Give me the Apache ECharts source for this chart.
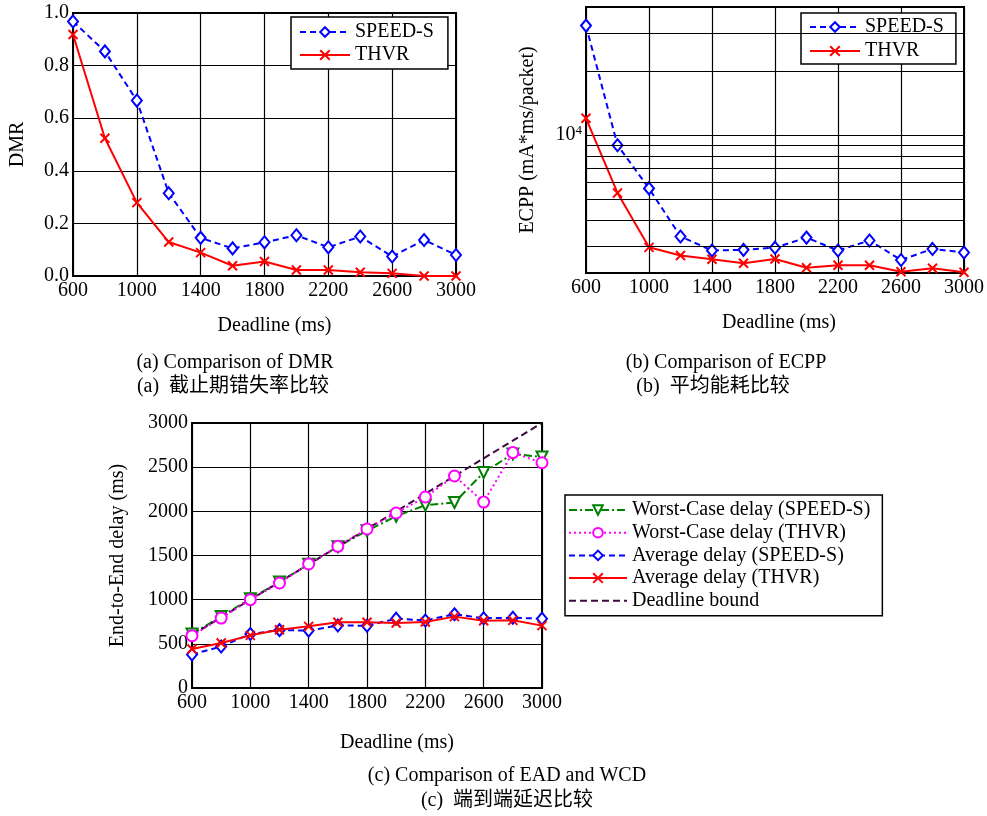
<!DOCTYPE html>
<html>
<head>
<meta charset="utf-8">
<script src="https://cdn.jsdelivr.net/npm/echarts@6.0.0/dist/echarts.min.js"></script>
<style>
  html, body { margin: 0; padding: 0; background: #fff; }
  #main { width: 987px; height: 816px; }
</style>
</head>
<body>
<div id="main"></div>
<script>
// x 轴 deadline (ms)
const deadlines = ['600', '800', '1000', '1200', '1400', '1600', '1800', '2000', '2200', '2400', '2600', '2800', '3000'];

// (a) DMR
const dmrSpeedS = [0.968, 0.854, 0.667, 0.315, 0.145, 0.105, 0.128, 0.155, 0.109, 0.150, 0.074, 0.137, 0.080];
const dmrThvr = [0.918, 0.524, 0.279, 0.129, 0.089, 0.039, 0.055, 0.023, 0.023, 0.014, 0.010, 0.0, 0.0];

// (b) ECPP, 对数轴
const ecppSpeedS = [32700, 8970, 5620, 3340, 2870, 2890, 2960, 3300, 2870, 3200, 2590, 2920, 2810];
const ecppThvr = [12000, 5350, 2970, 2720, 2610, 2500, 2620, 2380, 2445, 2445, 2280, 2370, 2270];
const ecppMinorGrid = [3000, 4000, 5000, 6000, 7000, 8000, 9000, 20000, 30000];

// (c) EAD / WCD
const wcdSpeedS = [610, 810, 1010, 1200, 1400, 1600, 1780, 1945, 2070, 2100, 2440, 2650, 2615];
const wcdThvr = [592, 792, 1000, 1189, 1404, 1604, 1800, 1981, 2162, 2400, 2105, 2665, 2550];
const eadSpeedS = [380, 470, 612, 655, 650, 708, 705, 785, 765, 835, 790, 795, 785];
const eadThvr = [441, 509, 596, 660, 698, 745, 745, 736, 747, 808, 762, 766, 706];
const deadlineBound = [600, 800, 1000, 1200, 1400, 1600, 1800, 2000, 2200, 2400, 2600, 2800, 3000];

const FONT = 'Liberation Serif';
const MIXED = '"Liberation Serif", "Noto Sans CJK SC"';
const CROSS = 'path://M0,0L10,10M10,0L0,10';

const gridLine = { color: '#000', width: 1.2 };
const textBase = { fontFamily: FONT, fontSize: 20, color: '#000' };

const xAxisOf = (gridIndex, nameGap, shift) => ({
  type: 'category',
  gridIndex,
  data: deadlines,
  boundaryGap: false,
  axisLine: { lineStyle: { color: '#000', width: 2 } },
  axisTick: { show: false },
  axisLabel: { ...textBase, interval: 1, margin: 5 },
  splitLine: { show: true, interval: 1, lineStyle: gridLine },
  name: 'Deadline (ms)',
  nameLocation: 'middle',
  nameGap,
  nameTextStyle: { ...textBase, padding: [0, 0, 0, shift * 2] }
});

const yName = (name, nameGap) => ({
  name,
  nameLocation: 'middle',
  nameGap,
  nameTextStyle: textBase,
  axisLine: { show: true, lineStyle: { color: '#000', width: 2 } },
  axisTick: { show: false },
  splitLine: { show: true, lineStyle: gridLine }
});

const speedStyle = {
  lineStyle: { color: '#0000ff', width: 2, type: [6, 4] },
  symbol: 'emptyDiamond',
  symbolSize: [10, 12],
  itemStyle: { color: '#0000ff', borderWidth: 2 }
};
const thvrStyle = {
  lineStyle: { color: '#ff0000', width: 2, type: 'solid' },
  symbol: CROSS,
  symbolSize: 9,
  itemStyle: { color: '#ff0000', borderColor: '#ff0000', borderWidth: 2 }
};

const legendBase = {
  orient: 'vertical',
  backgroundColor: '#fff',
  borderColor: '#000',
  borderWidth: 1.5,
  borderRadius: 0,
  itemHeight: 12,
  textStyle: { ...textBase, lineHeight: 20 }
};

const caption = (text, x, y) => ({
  type: 'text',
  x, y,
  silent: true,
  style: {
    text,
    font: '20px ' + MIXED,
    fill: '#000',
    align: 'center', textAlign: 'center',
    verticalAlign: 'middle', textVerticalAlign: 'middle'
  }
});

const chart = echarts.init(document.getElementById('main'));

const option = {
  backgroundColor: '#fff',
  animation: false,
  grid: [
    { left: 73, top: 13, width: 383, height: 263 },
    { left: 586, top: 7, width: 378, height: 266 },
    { left: 192, top: 423, width: 350, height: 265 }
  ].map(g => ({ ...g, show: true, borderColor: '#000', borderWidth: 2, outerBoundsMode: 'none' })),
  xAxis: [
    xAxisOf(0, 40, 10),
    xAxisOf(1, 40, 4),
    xAxisOf(2, 45, 30)
  ],
  yAxis: [
    {
      type: 'value', gridIndex: 0, min: 0, max: 1, interval: 0.2,
      ...yName('DMR', 45),
      axisLabel: { ...textBase, margin: 4, formatter: v => v.toFixed(1) }
    },
    {
      type: 'log', gridIndex: 1, logBase: 10, min: 2250, max: 40000,
      ...yName('ECPP (mA*ms/packet)', 48),
      axisLabel: {
        ...textBase, margin: 4,
        showMinLabel: false, showMaxLabel: false,
        formatter: v => (Math.abs(v - 10000) < 1 ? '{b|10}{s|4}' : ''),
        rich: {
          b: { fontFamily: FONT, fontSize: 20, color: '#000' },
          s: { fontFamily: FONT, fontSize: 13, color: '#000', padding: [0, 0, 10, 0] }
        }
      }
    },
    {
      type: 'value', gridIndex: 2, min: 0, max: 3000, interval: 500,
      ...yName('End-to-End delay (ms)', 64),
      axisLabel: { ...textBase, margin: 4, formatter: v => String(v) }
    }
  ],
  legend: [
    {
      ...legendBase, left: 291, top: 17, padding: [5, 14, 4, 8],
      itemWidth: 50, itemGap: 3, data: ['SPEED-S', 'THVR']
    },
    {
      ...legendBase, left: 801, top: 13, padding: [4, 12, 3, 8],
      itemWidth: 50, itemGap: 4, data: ['SPEED-S', 'THVR']
    },
    {
      ...legendBase, left: 565, top: 495, padding: [5, 12, 5, 3],
      itemWidth: 58, itemGap: 2.7,
      data: [
        'Worst-Case delay (SPEED-S)',
        'Worst-Case delay (THVR)',
        'Average delay (SPEED-S)',
        'Average delay (THVR)',
        { name: 'Deadline bound', itemStyle: { opacity: 0 } }
      ]
    }
  ],
  series: [
    // (a)
    { name: 'SPEED-S', type: 'line', xAxisIndex: 0, yAxisIndex: 0, data: dmrSpeedS, z: 3, ...speedStyle },
    { name: 'THVR', type: 'line', xAxisIndex: 0, yAxisIndex: 0, data: dmrThvr, z: 4, ...thvrStyle },
    // (b) 对数轴的细分网格线
    {
      name: 'ecpp-grid', type: 'line', xAxisIndex: 1, yAxisIndex: 1, data: [], z: 1,
      markLine: {
        silent: true, animation: false, symbol: 'none',
        label: { show: false },
        lineStyle: { color: '#000', width: 1.2, type: 'solid' },
        data: ecppMinorGrid.map(v => ({ yAxis: v }))
      }
    },
    { name: 'SPEED-S', type: 'line', xAxisIndex: 1, yAxisIndex: 1, data: ecppSpeedS, z: 3, ...speedStyle },
    { name: 'THVR', type: 'line', xAxisIndex: 1, yAxisIndex: 1, data: ecppThvr, z: 4, ...thvrStyle },
    // (c)
    {
      name: 'Worst-Case delay (SPEED-S)', type: 'line', xAxisIndex: 2, yAxisIndex: 2, data: wcdSpeedS, z: 3,
      lineStyle: { color: '#008000', width: 2, type: [8, 3, 2, 3] },
      symbol: 'emptyTriangle', symbolRotate: 180, symbolSize: 11,
      itemStyle: { color: '#008000', borderWidth: 2 }
    },
    {
      name: 'Worst-Case delay (THVR)', type: 'line', xAxisIndex: 2, yAxisIndex: 2, data: wcdThvr, z: 5,
      lineStyle: { color: '#ff00ff', width: 2, type: [2, 3] },
      symbol: 'emptyCircle', symbolSize: 11,
      itemStyle: { color: '#ff00ff', borderWidth: 2.5 }
    },
    { name: 'Average delay (SPEED-S)', type: 'line', xAxisIndex: 2, yAxisIndex: 2, data: eadSpeedS, z: 3, ...speedStyle },
    { name: 'Average delay (THVR)', type: 'line', xAxisIndex: 2, yAxisIndex: 2, data: eadThvr, z: 4, ...thvrStyle },
    {
      name: 'Deadline bound', type: 'line', xAxisIndex: 2, yAxisIndex: 2, data: deadlineBound, z: 4,
      lineStyle: { color: '#3c0a3c', width: 2, type: [7, 4] },
      symbol: 'none', itemStyle: { color: '#3c0a3c' }
    }
  ],
  graphic: [
    caption('(a) Comparison of DMR', 235, 363),
    caption('(a)  截止期错失率比较', 233, 387),
    caption('(b) Comparison of ECPP', 726, 363),
    caption('(b)  平均能耗比较', 713, 387),
    caption('(c) Comparison of EAD and WCD', 507, 776),
    caption('(c)  端到端延迟比较', 507, 801)
  ]
};

chart.setOption(option);
</script>
</body>
</html>
